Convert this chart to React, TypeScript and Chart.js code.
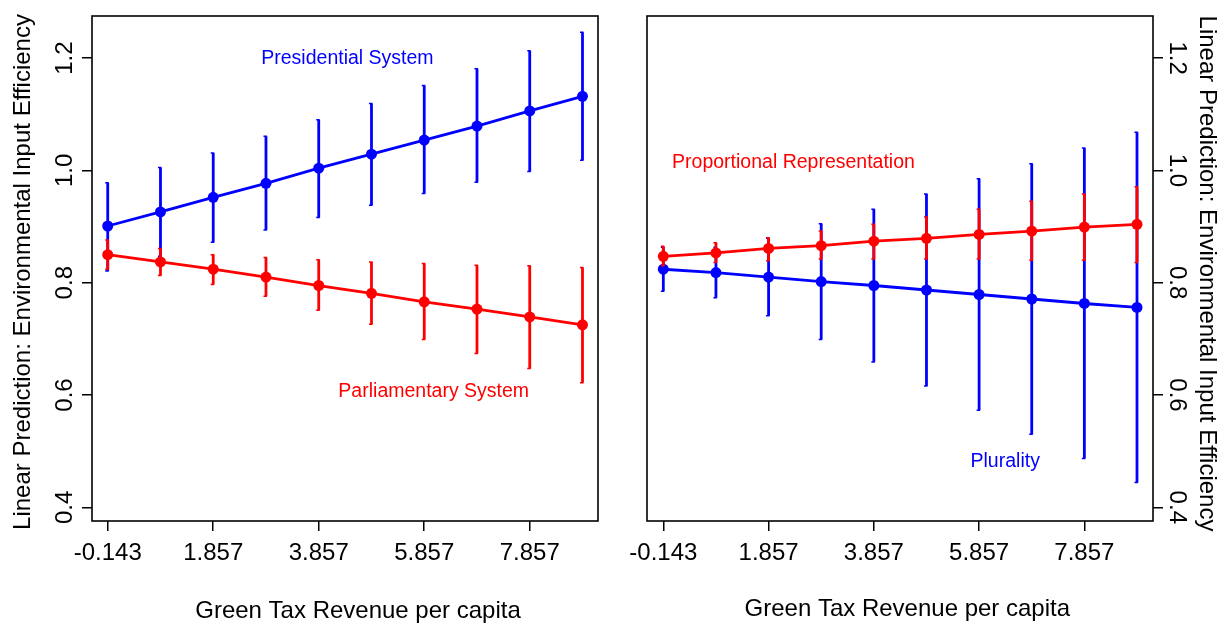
import React, { useEffect, useRef } from "react";
import { Chart, registerables } from "chart.js";

Chart.register(...registerables);

// ---------- data ----------
const xValues = [-0.143, 0.857, 1.857, 2.857, 3.857, 4.857, 5.857, 6.857, 7.857, 8.857];
const xTickValues = [-0.143, 1.857, 3.857, 5.857, 7.857];
const yTickValues = [0.4, 0.6, 0.8, 1.0, 1.2];

// Left panel: Presidential vs Parliamentary
const presidential = [0.901, 0.926, 0.952, 0.977, 1.004, 1.029, 1.054, 1.079, 1.106, 1.132];
const presLow = [0.821, 0.847, 0.872, 0.894, 0.916, 0.938, 0.959, 0.979, 0.998, 1.018];
const presHigh = [0.978, 1.005, 1.031, 1.061, 1.09, 1.119, 1.151, 1.181, 1.213, 1.246];
const parliamentary = [0.85, 0.837, 0.824, 0.81, 0.795, 0.781, 0.766, 0.753, 0.739, 0.725];
const parlLow = [0.824, 0.813, 0.797, 0.776, 0.751, 0.726, 0.699, 0.674, 0.647, 0.622];
const parlHigh = [0.876, 0.861, 0.85, 0.845, 0.841, 0.837, 0.834, 0.831, 0.83, 0.827];

// Right panel: Proportional Representation vs Plurality
const proportional = [0.847, 0.853, 0.861, 0.866, 0.874, 0.879, 0.886, 0.892, 0.899, 0.904];
const propLow = [0.83, 0.836, 0.839, 0.842, 0.842, 0.842, 0.842, 0.84, 0.84, 0.836];
const propHigh = [0.865, 0.871, 0.88, 0.892, 0.904, 0.917, 0.931, 0.945, 0.958, 0.971];
const plurality = [0.824, 0.818, 0.81, 0.802, 0.795, 0.787, 0.779, 0.771, 0.763, 0.756];
const plurLow = [0.785, 0.773, 0.741, 0.699, 0.659, 0.616, 0.573, 0.53, 0.487, 0.444];
const plurHigh = [0.863, 0.863, 0.879, 0.905, 0.931, 0.958, 0.985, 1.012, 1.04, 1.068];

const yAxisTitle = "Linear Prediction: Environmental Input Efficiency";
const xAxisTitle = "Green Tax Revenue per capita";

// ---------- styles ----------
const BLUE = "#0000ff";
const RED = "#ff0000";
const FONT_FAMILY = '"Liberation Sans", Arial, Helvetica, sans-serif';
const AXIS_FONT = `24px ${FONT_FAMILY}`;
const NOTE_FONT = `19.5px ${FONT_FAMILY}`;
const W = 614;
const H = 625;

type Series = { color: string; values: number[]; low: number[]; high: number[] };
type Note = { text: string; color: string; x: number; y: number };
type Panel = {
  left: number;
  xMin: number;
  xMax: number;
  yMin: number;
  yMax: number;
  yPosition: "left" | "right";
  padding: { left: number; right: number; top: number; bottom: number };
  series: Series[];
  notes: Note[];
  yLabelBaseX: number;
  yTitleBaseX: number;
  yTitleCenterY: number;
  xLabelBaseY: number;
  xTitleCenterX: number;
  xTitleBaseY: number;
};

const panels: Panel[] = [
  {
    left: 0,
    xMin: -0.441,
    xMax: 9.151,
    yMin: 0.3756,
    yMax: 1.275,
    yPosition: "left",
    padding: { left: 82, right: 16, top: 16, bottom: 94 },
    series: [
      { color: RED, values: parliamentary, low: parlLow, high: parlHigh },
      { color: BLUE, values: presidential, low: presLow, high: presHigh },
    ],
    notes: [
      { text: "Presidential System", color: BLUE, x: 4.401, y: 1.189 },
      { text: "Parliamentary System", color: RED, x: 6.037, y: 0.5964 },
    ],
    yLabelBaseX: 71.5,
    yTitleBaseX: 30,
    yTitleCenterY: 272,
    xLabelBaseY: 560,
    xTitleCenterX: 358,
    xTitleBaseY: 618,
  },
  {
    left: 614,
    xMin: -0.453,
    xMax: 9.161,
    yMin: 0.3756,
    yMax: 1.275,
    yPosition: "right",
    padding: { left: 33, right: 65, top: 16, bottom: 94 },
    series: [
      { color: RED, values: proportional, low: propLow, high: propHigh },
      { color: BLUE, values: plurality, low: plurLow, high: plurHigh },
    ],
    notes: [
      { text: "Proportional Representation", color: RED, x: 2.33, y: 1.004 },
      { text: "Plurality", color: BLUE, x: 6.353, y: 0.4717 },
    ],
    yLabelBaseX: 555.5,
    yTitleBaseX: 586,
    yTitleCenterY: 273.5,
    xLabelBaseY: 560,
    xTitleCenterX: 293.3,
    xTitleBaseY: 616,
  },
];

function fmtX(v: number) {
  return v.toFixed(3);
}
function fmtY(v: number) {
  return v.toFixed(1);
}

function buildConfig(p: Panel): any {
  const errorBarPlugin = {
    id: "errorBars",
    beforeDatasetDraw(chart: any, args: any) {
      const s = p.series[args.index];
      if (!s) return;
      const xs = chart.scales.x;
      const ys = chart.scales.y;
      const ctx = chart.ctx;
      ctx.save();
      ctx.strokeStyle = s.color;
      for (let i = 0; i < xValues.length; i++) {
        const px = xs.getPixelForValue(xValues[i]);
        const y1 = ys.getPixelForValue(s.low[i]);
        const y2 = ys.getPixelForValue(s.high[i]);
        ctx.lineWidth = 2.8;
        ctx.beginPath();
        ctx.moveTo(px, y1);
        ctx.lineTo(px, y2);
        ctx.stroke();
        ctx.lineWidth = 1.5;
        ctx.beginPath();
        ctx.moveTo(px - 2.5, y1);
        ctx.lineTo(px + 1, y1);
        ctx.moveTo(px - 2.5, y2);
        ctx.lineTo(px + 1, y2);
        ctx.stroke();
      }
      ctx.restore();
    },
  };

  const textPlugin = {
    id: "panelText",
    afterDraw(chart: any) {
      const ctx = chart.ctx;
      const a = chart.chartArea;
      const xs = chart.scales.x;
      const ys = chart.scales.y;
      ctx.save();
      // frame
      ctx.strokeStyle = "#000";
      ctx.lineWidth = 1.6;
      ctx.strokeRect(a.left, a.top, a.right - a.left, a.bottom - a.top);

      ctx.fillStyle = "#000";
      ctx.font = AXIS_FONT;
      // x tick labels
      ctx.textAlign = "center";
      ctx.textBaseline = "alphabetic";
      for (const v of xTickValues) {
        ctx.fillText(fmtX(v), xs.getPixelForValue(v), p.xLabelBaseY);
      }
      // y tick labels (rotated)
      const rot = p.yPosition === "left" ? -Math.PI / 2 : Math.PI / 2;
      for (const v of yTickValues) {
        ctx.save();
        ctx.translate(p.yLabelBaseX, ys.getPixelForValue(v));
        ctx.rotate(rot);
        ctx.textAlign = "center";
        ctx.textBaseline = "alphabetic";
        ctx.fillText(fmtY(v), 0, 0);
        ctx.restore();
      }
      // y title
      ctx.save();
      ctx.translate(p.yTitleBaseX, p.yTitleCenterY);
      ctx.rotate(rot);
      ctx.textAlign = "center";
      ctx.textBaseline = "alphabetic";
      ctx.fillText(yAxisTitle, 0, 0);
      ctx.restore();
      // x title
      ctx.textAlign = "center";
      ctx.textBaseline = "alphabetic";
      ctx.fillText(xAxisTitle, p.xTitleCenterX, p.xTitleBaseY);

      // in-plot notes
      ctx.font = NOTE_FONT;
      for (const n of p.notes) {
        ctx.fillStyle = n.color;
        ctx.fillText(n.text, xs.getPixelForValue(n.x), ys.getPixelForValue(n.y));
      }
      ctx.restore();
    },
  };

  const tickGrid = {
    display: true,
    drawOnChartArea: false,
    drawTicks: true,
    tickLength: 10,
    color: "#000",
    lineWidth: 1.5,
  };

  return {
    type: "line",
    data: {
      datasets: p.series.map((s) => ({
        data: xValues.map((x, i) => ({ x, y: s.values[i] })),
        borderColor: s.color,
        backgroundColor: s.color,
        pointBackgroundColor: s.color,
        pointBorderColor: s.color,
        pointBorderWidth: 0,
        pointRadius: 5.5,
        borderWidth: 2.8,
        tension: 0,
        fill: false,
      })),
    },
    options: {
      animation: false,
      responsive: false,
      maintainAspectRatio: false,
      events: [],
      layout: { padding: p.padding },
      plugins: {
        legend: { display: false },
        tooltip: { enabled: false },
        title: { display: false },
      },
      scales: {
        x: {
          type: "linear",
          min: p.xMin,
          max: p.xMax,
          position: "bottom",
          afterBuildTicks: (s: any) => {
            s.ticks = xTickValues.map((v) => ({ value: v }));
          },
          ticks: { display: false },
          grid: tickGrid,
          border: { display: false },
          title: { display: false },
        },
        y: {
          type: "linear",
          min: p.yMin,
          max: p.yMax,
          position: p.yPosition,
          afterBuildTicks: (s: any) => {
            s.ticks = yTickValues.map((v) => ({ value: v }));
          },
          ticks: { display: false },
          grid: tickGrid,
          border: { display: false },
          title: { display: false },
        },
      },
    },
    plugins: [errorBarPlugin, textPlugin],
  };
}

function PanelChart({ panel }: { panel: Panel }) {
  const ref = useRef<HTMLCanvasElement | null>(null);
  useEffect(() => {
    if (!ref.current) return;
    const chart = new Chart(ref.current, buildConfig(panel));
    return () => chart.destroy();
  }, [panel]);
  return (
    <canvas
      ref={ref}
      width={W}
      height={H}
      style={{ position: "absolute", left: panel.left, top: 0, width: W, height: H, display: "block" }}
    />
  );
}

export default function App() {
  return (
    <div
      style={{
        position: "absolute",
        left: 0,
        top: 0,
        width: 1228,
        height: 625,
        background: "#fff",
        overflow: "hidden",
      }}
    >
      {panels.map((p, i) => (
        <PanelChart key={i} panel={p} />
      ))}
    </div>
  );
}
